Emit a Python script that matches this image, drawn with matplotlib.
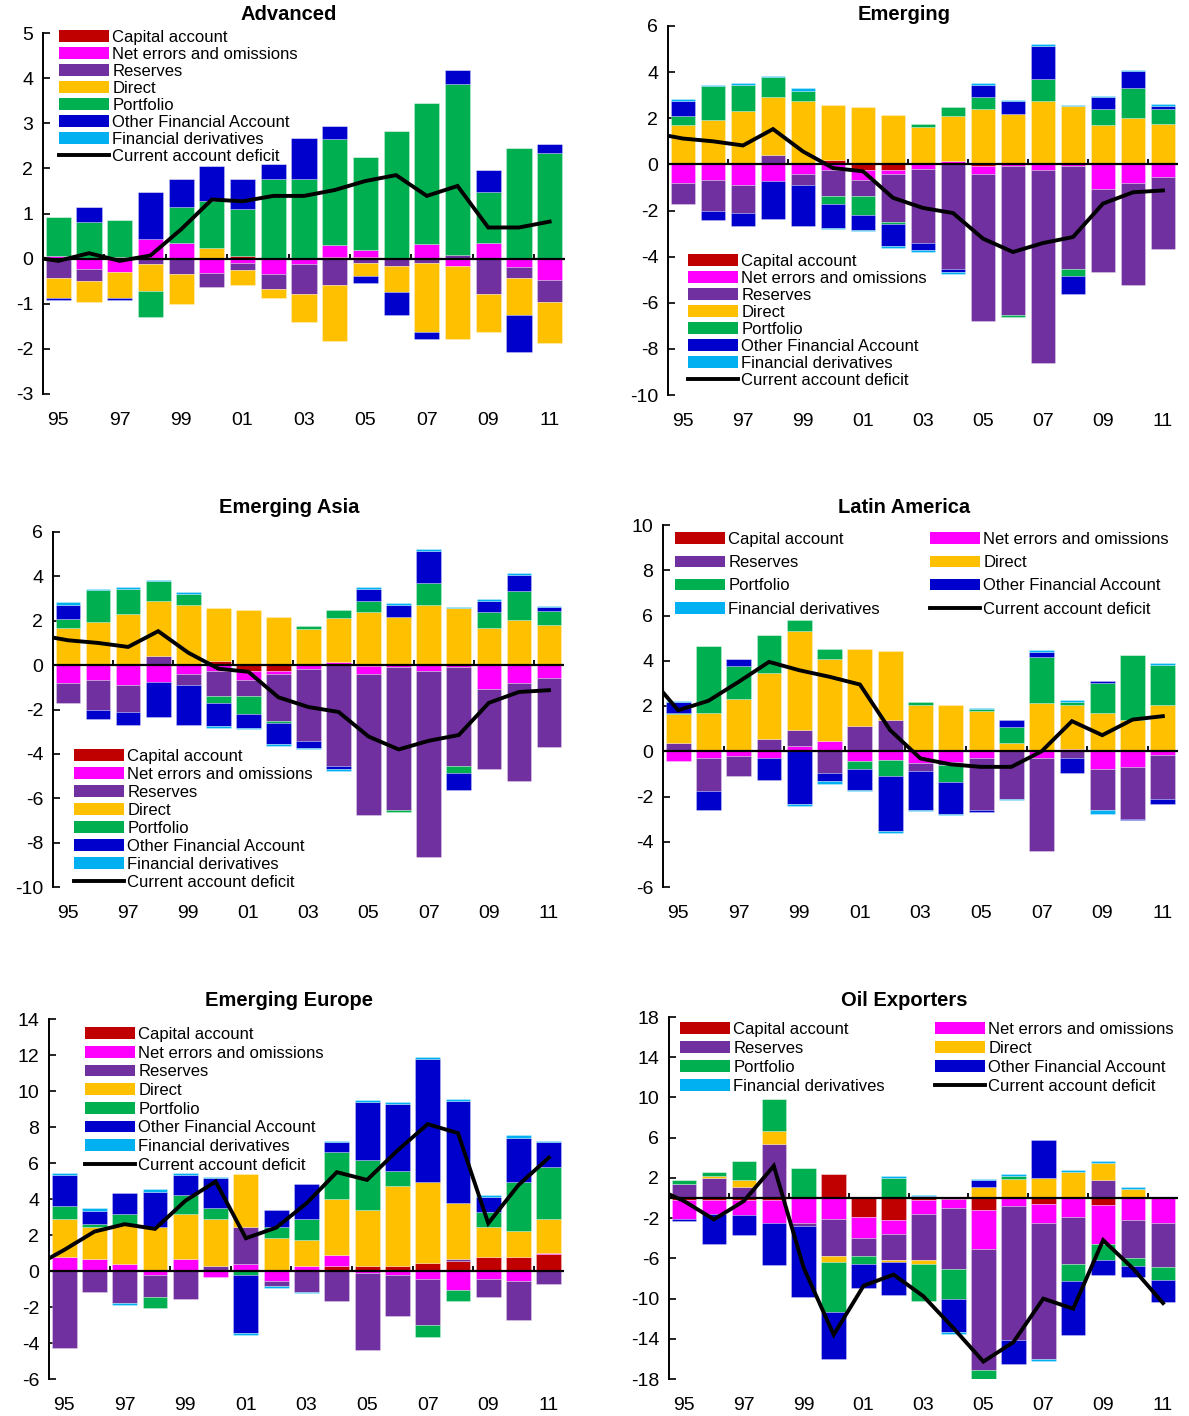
import numpy as np
import matplotlib.pyplot as plt
import matplotlib.transforms as mtransforms
from matplotlib.patches import Patch
from matplotlib.lines import Line2D

plt.rcParams['font.family'] = ['Liberation Sans', 'DejaVu Sans']
plt.rcParams['axes.unicode_minus'] = False

W, H = 1189, 1416

years = np.arange(1995, 2012)
line_years = np.arange(1994, 2012)  # 1994 only feeds the clipped first segment
tick_years = np.arange(1995, 2012, 2)
tick_labels = ['95', '97', '99', '01', '03', '05', '07', '09', '11']

names = ['Capital account', 'Net errors and omissions', 'Reserves', 'Direct',
         'Portfolio', 'Other Financial Account', 'Financial derivatives']
colors = ['#C00000', '#FF00FF', '#7030A0', '#FFC000', '#00B050', '#0000CC', '#00B0F0']
ca_name = 'Current account deficit'

# ---- Advanced
adv_cap = [0, 0, 0.04, 0, 0, 0, 0.05, 0, 0, 0.04, 0.03, 0, 0, 0, 0, 0, 0]
adv_neo = [0.05, -0.22, -0.30, 0.44, 0.35, -0.31, -0.09, -0.35, -0.13, 0.27, 0.16, 0, 0.32, -0.16, 0.35, -0.18, -0.48]
adv_res = [-0.42, -0.28, 0, -0.13, -0.35, -0.32, -0.17, -0.32, -0.66, -0.59, -0.09, -0.16, -0.09, 0.07, -0.79, -0.24, -0.48]
adv_fdi = [-0.46, -0.46, -0.58, -0.59, -0.65, 0.24, -0.32, -0.21, -0.61, -1.23, -0.29, -0.59, -1.53, -1.62, -0.83, -0.83, -0.90]
adv_port = [0.88, 0.81, 0.82, -0.57, 0.80, 1.04, 1.05, 1.76, 1.76, 2.35, 2.07, 2.82, 3.13, 3.79, 1.12, 2.46, 2.35]
adv_oth = [-0.04, 0.34, -0.04, 1.04, 0.61, 0.77, 0.66, 0.33, 0.92, 0.29, -0.17, -0.49, -0.17, 0.33, 0.49, -0.82, 0.19]
adv_der = [0] * 17
adv_ca = [0.05, -0.05, 0.12, -0.05, 0.07, 0.65, 1.31, 1.27, 1.39, 1.39, 1.52, 1.72, 1.85, 1.39, 1.61, 0.69, 0.69, 0.82]

# ---- Emerging
em_cap = [0, 0, 0, 0, 0, 0.20, -0.26, -0.23, 0, 0, -0.05, 0, 0, 0, 0, 0, 0]
em_neo = [-0.81, -0.66, -0.91, -0.74, -0.42, -0.26, -0.40, -0.17, -0.19, 0.13, -0.35, -0.09, -0.26, -0.09, -1.07, -0.81, -0.56]
em_res = [-0.89, -1.37, -1.20, 0.39, -0.49, -1.13, -0.73, -2.11, -3.24, -4.53, -6.37, -6.45, -8.37, -4.44, -3.61, -4.43, -3.13]
em_fdi = [1.69, 1.93, 2.32, 2.51, 2.73, 2.37, 2.48, 2.15, 1.62, 1.98, 2.41, 2.18, 2.73, 2.51, 1.69, 2.00, 1.76]
em_port = [0.39, 1.45, 1.13, 0.87, 0.47, -0.31, -0.82, -0.07, 0.13, 0.37, 0.49, -0.07, 0.96, -0.32, 0.72, 1.30, 0.65]
em_oth = [0.65, -0.39, -0.57, -1.61, -1.77, -1.05, -0.62, -0.97, -0.29, -0.15, 0.55, 0.55, 1.46, -0.79, 0.49, 0.73, 0.14]
em_der = [0.10, 0.07, 0.07, 0.08, 0.09, -0.07, -0.07, -0.07, -0.08, -0.07, 0.07, 0.07, 0.07, 0.07, 0.07, 0.07, 0.08]
em_ca = [1.36, 1.12, 1.00, 0.82, 1.53, 0.56, -0.16, -0.30, -1.45, -1.89, -2.11, -3.22, -3.80, -3.41, -3.15, -1.70, -1.21, -1.13]

# ---- Emerging Asia
asia_cap = [0, 0, 0, 0, 0, 0.20, -0.26, -0.25, 0, 0, -0.05, 0, 0, 0.05, 0, 0.05, 0.05]
asia_neo = [-0.81, -0.66, -0.91, -0.74, -0.42, -0.26, -0.40, -0.17, -0.19, 0.13, -0.35, -0.09, -0.26, -0.09, -1.07, -0.81, -0.56]
asia_res = [-0.89, -1.37, -1.20, 0.39, -0.49, -1.13, -0.73, -2.11, -3.24, -4.53, -6.37, -6.45, -8.37, -4.44, -3.61, -4.43, -3.13]
asia_fdi = [1.69, 1.93, 2.32, 2.51, 2.73, 2.37, 2.48, 2.15, 1.62, 1.98, 2.41, 2.18, 2.73, 2.51, 1.69, 2.00, 1.76]
asia_port = [0.39, 1.45, 1.13, 0.87, 0.47, -0.31, -0.82, -0.07, 0.13, 0.37, 0.49, -0.07, 0.96, -0.32, 0.72, 1.30, 0.65]
asia_oth = [0.65, -0.39, -0.57, -1.61, -1.77, -1.05, -0.62, -0.97, -0.29, -0.15, 0.55, 0.55, 1.46, -0.79, 0.49, 0.73, 0.14]
asia_der = [0.10, 0.07, 0.07, 0.08, 0.09, -0.07, -0.07, -0.07, -0.08, -0.07, 0.07, 0.07, 0.07, 0.07, 0.07, 0.07, 0.08]
asia_ca = [1.36, 1.12, 1.00, 0.82, 1.53, 0.56, -0.16, -0.30, -1.45, -1.89, -2.11, -3.22, -3.80, -3.41, -3.15, -1.70, -1.21, -1.13]

# ---- Latin America
la_cap = [0] * 17
la_neo = [-0.43, -0.28, -0.21, -0.29, 0.22, 0.46, -0.44, -0.37, -0.52, -0.47, -0.29, 0, -0.28, 0.12, -0.77, -0.69, -0.18]
la_res = [0.37, -1.49, -0.88, 0.53, 0.74, -0.96, 1.12, 1.37, -0.36, -0.15, -2.32, -2.09, -4.13, -0.29, -1.81, -2.29, -1.92]
la_fdi = [1.27, 1.70, 2.29, 2.91, 4.35, 3.61, 3.38, 3.04, 2.04, 2.04, 1.77, 0.38, 2.14, 1.92, 1.70, 1.37, 2.04]
la_port = [0.07, 2.96, 1.47, 1.72, 0.49, 0.43, -0.36, -0.74, 0.14, -0.74, 0.09, 0.67, 2.03, 0.14, 1.32, 2.88, 1.79]
la_oth = [0.47, -0.81, 0.31, -0.96, -2.35, -0.37, -0.90, -2.42, -1.70, -1.40, -0.07, 0.32, 0.23, -0.65, 0.08, -0.07, -0.25]
la_der = [0.04, 0, 0, 0, -0.07, -0.10, -0.07, -0.07, -0.07, -0.07, 0.07, -0.07, 0.07, 0.08, -0.18, 0, 0.08]
la_ca = [3.39, 1.81, 2.23, 3.07, 3.95, 3.58, 3.29, 2.95, 0.93, -0.32, -0.58, -0.69, -0.69, 0.0, 1.33, 0.71, 1.40, 1.55]

# ---- Emerging Europe
eu_cap = [0, 0, 0, 0, 0, 0, 0, 0, 0, 0.28, 0.28, 0.28, 0.46, 0.57, 0.80, 0.80, 0.93]
eu_neo = [0.80, 0.67, 0.39, -0.22, 0.67, -0.35, 0.39, -0.54, 0.28, 0.61, -0.13, -0.22, -0.46, -1.06, -0.46, -0.56, 0.09]
eu_res = [-4.26, -1.15, -1.80, -1.24, -1.58, 0.28, 2.08, -0.29, -1.15, -1.67, -4.26, -2.28, -2.54, 0.10, -1.00, -2.16, -0.74]
eu_fdi = [2.07, 1.80, 2.17, 2.47, 2.50, 2.59, 2.91, 1.85, 1.44, 3.11, 3.11, 4.45, 4.47, 3.13, 1.67, 1.44, 1.85]
eu_port = [0.76, 0.14, 0.61, -0.61, 1.06, 0.65, -0.22, 0.62, 1.15, 2.60, 2.78, 0.83, -0.65, -0.61, 0.79, 2.69, 2.89]
eu_oth = [1.71, 0.74, 1.15, 1.94, 1.11, 1.63, -3.25, 0.92, 1.97, 0.54, 3.21, 3.73, 6.86, 5.67, 0.84, 2.48, 1.38]
eu_der = [0.09, 0.13, -0.09, 0.13, 0.09, 0.10, -0.09, -0.13, -0.09, 0.09, 0.11, 0.09, 0.11, 0.09, 0.11, 0.12, 0.09]
eu_ca = [0.23, 1.17, 2.19, 2.60, 2.34, 3.90, 4.97, 1.82, 2.41, 3.76, 5.49, 5.06, 6.69, 8.16, 7.66, 2.65, 4.78, 6.30]

# ---- Oil Exporters
oil_cap = [-0.17, -0.17, -0.20, -0.17, 0, 2.36, -1.86, -2.23, -0.23, -0.13, -1.16, 0, -0.57, 0, -0.73, 0, 0]
oil_neo = [-1.96, -1.46, -1.50, -2.29, -2.46, -2.06, -2.10, -1.33, -1.33, -0.83, -3.90, -0.80, -1.89, -1.86, -3.89, -2.23, -2.46]
oil_res = [1.43, 1.96, 1.06, 5.36, -0.33, -3.73, -1.83, -2.63, -4.56, -6.09, -12.04, -13.37, -13.54, -4.66, 1.80, -3.72, -4.43]
oil_fdi = [0, 0.27, 0.77, 1.33, 0, -0.56, 0, -0.20, -0.40, 0, 1.10, 1.86, 2.03, 2.59, 1.73, 0.93, 0]
oil_port = [0.40, 0.36, 1.86, 3.16, 2.96, -4.99, -0.76, 2.03, -3.69, -3.00, -0.93, 0.34, 0, -1.70, -1.53, -0.77, -1.29]
oil_oth = [-0.17, -2.99, -1.99, -4.23, -7.06, -4.66, -2.40, -3.29, 0.17, -3.32, 0.66, -2.36, 3.73, -5.38, -1.47, -1.13, -2.20]
oil_der = [0, 0, 0, 0, 0, 0, 0, 0.17, 0.13, -0.17, 0.17, 0.16, -0.17, 0.17, 0.16, 0.17, 0]
oil_ca = [1.04, -0.30, -2.13, -0.30, 3.19, -6.95, -13.60, -8.72, -7.62, -9.78, -12.94, -16.27, -14.34, -10.01, -11.01, -4.19, -7.02, -10.45]

fig = plt.figure(figsize=(W / 100, H / 100), dpi=100)


def px_axes(left, top, right, bottom):
    return fig.add_axes([left / W, 1 - bottom / H, (right - left) / W, (bottom - top) / H])


def draw_panel(ax, comps, ca, ymin, ymax, ystep):
    pos_base = np.zeros(len(years))
    neg_base = np.zeros(len(years))
    for vals, c in zip(comps, colors):
        vals = np.asarray(vals, dtype=float)
        bottom = np.where(vals >= 0, pos_base, neg_base)
        ax.bar(years, vals, 0.82, bottom=bottom, color=c,
               edgecolor=(1, 1, 1, 0.5), linewidth=0.4, zorder=2)
        pos_base += np.clip(vals, 0, None)
        neg_base += np.clip(vals, None, 0)
    ax.axhline(0, color='black', lw=1.6, zorder=3)
    ax.plot(line_years, ca, color='black', lw=2.8, zorder=4, solid_joinstyle='miter')

    ax.set_xlim(1994.5, 2011.5)
    ax.set_ylim(ymin, ymax)
    ax.set_yticks(np.arange(ymin, ymax + 0.1, ystep))
    ax.set_xticks(tick_years)
    ax.set_xticklabels(tick_labels)
    for s in ['top', 'right', 'bottom']:
        ax.spines[s].set_visible(False)
    ax.spines['left'].set_linewidth(1.4)
    ax.tick_params(axis='x', length=0, pad=13, labelsize=14)
    ax.tick_params(axis='y', direction='in', length=5, width=1.2, pad=7, labelsize=14)

    # small category tick marks standing on the zero line between year pairs
    z0 = (0 - ymin) / (ymax - ymin)
    trans = mtransforms.blended_transform_factory(ax.transData, ax.transAxes)
    ax.vlines(np.arange(1996.5, 2011, 2), z0, z0 + 5 / 360, transform=trans,
              color='black', lw=1.3, zorder=3)


def handles():
    hs = [Patch(facecolor=c, edgecolor='none') for c in colors]
    hs.append(Line2D([0], [0], color='black', lw=2.8))
    return hs, names + [ca_name]


def one_col_legend(ax, x, y, spacing):
    hs, ls = handles()
    ax.legend(hs, ls, loc='upper left', bbox_to_anchor=(x / W, 1 - y / H),
              bbox_transform=fig.transFigure, frameon=False, fontsize=12,
              borderpad=0, borderaxespad=0, labelspacing=spacing,
              handlelength=3.0, handleheight=0.7, handletextpad=0.2)


def two_col_legend(ax, x, y, spacing, colspace):
    hs, ls = handles()
    order = [0, 2, 4, 6, 1, 3, 5, 7]
    ax.legend([hs[i] for i in order], [ls[i] for i in order], ncol=2,
              loc='upper left', bbox_to_anchor=(x / W, 1 - y / H),
              bbox_transform=fig.transFigure, frameon=False, fontsize=12,
              borderpad=0, borderaxespad=0, labelspacing=spacing,
              handlelength=3.0, handleheight=0.7, handletextpad=0.2,
              columnspacing=colspace)


def title(text, x, y):
    fig.text(x / W, 1 - y / H, text, ha='center', va='center',
             fontsize=14.5, fontweight='bold')


ax1 = px_axes(43, 33, 565, 394)
draw_panel(ax1, [adv_cap, adv_neo, adv_res, adv_fdi, adv_port, adv_oth, adv_der], adv_ca, -3, 5, 1)
one_col_legend(ax1, 59, 30, 0.12)
title('Advanced', 289, 15)

ax2 = px_axes(668, 26, 1178, 395)
draw_panel(ax2, [em_cap, em_neo, em_res, em_fdi, em_port, em_oth, em_der], em_ca, -10, 6, 2)
one_col_legend(ax2, 688, 254, 0.12)
title('Emerging', 904, 15)

ax3 = px_axes(53, 532, 564, 887)
draw_panel(ax3, [asia_cap, asia_neo, asia_res, asia_fdi, asia_port, asia_oth, asia_der], asia_ca, -10, 6, 2)
one_col_legend(ax3, 74, 749, 0.18)
title('Emerging Asia', 289, 507)

ax4 = px_axes(663, 525, 1178, 887)
draw_panel(ax4, [la_cap, la_neo, la_res, la_fdi, la_port, la_oth, la_der], la_ca, -6, 10, 2)
two_col_legend(ax4, 675, 532, 0.49, 3.0)
title('Latin America', 904, 507)

ax5 = px_axes(49, 1019, 564, 1379)
draw_panel(ax5, [eu_cap, eu_neo, eu_res, eu_fdi, eu_port, eu_oth, eu_der], eu_ca, -6, 14, 2)
one_col_legend(ax5, 85, 1027, 0.22)
title('Emerging Europe', 289, 1000)

ax6 = px_axes(669, 1017, 1178, 1379)
draw_panel(ax6, [oil_cap, oil_neo, oil_res, oil_fdi, oil_port, oil_oth, oil_der], oil_ca, -18, 18, 4)
two_col_legend(ax6, 680, 1022, 0.24, 3.0)
title('Oil Exporters', 904, 1000)

fig.savefig('out.png', dpi=100)
